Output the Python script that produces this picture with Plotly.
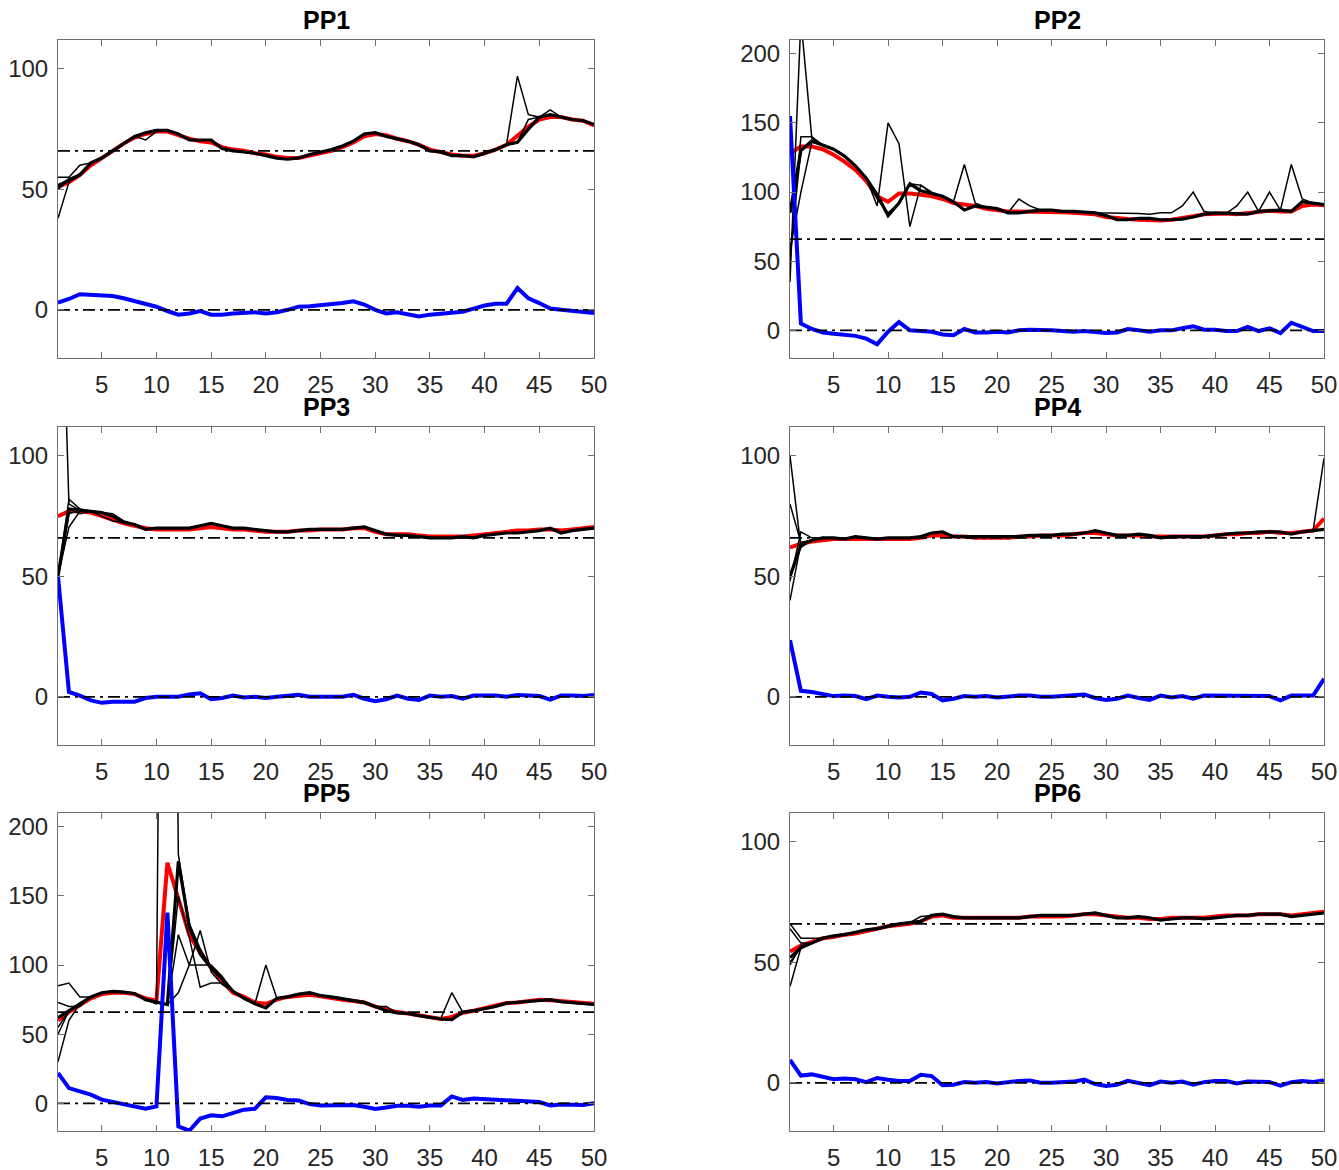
import plotly.graph_objects as go
from plotly.subplots import make_subplots

# ---------------- data ----------------
x_vals = list(range(1, 51))
x_ticks = [5, 10, 15, 20, 25, 30, 35, 40, 45, 50]
titles = ["PP1", "PP2", "PP3", "PP4", "PP5", "PP6"]
ref_level = 66
zero_level = 0

red1 = [51, 53, 56, 60, 63, 66, 69, 71.5, 73, 74, 74, 72.5, 71, 70, 69.5, 67.5, 66.5, 66, 65, 64.5,
        63.5, 63, 63, 64, 65, 66, 67.5, 69.5, 72, 73, 72.5, 71, 70, 68.5, 66.5, 65.5, 64.5, 64, 64, 65,
        66.5, 68.5, 72.5, 76, 79, 80, 80, 79, 78.5, 76.5]
black1 = [51, 54, 56, 61, 63, 66, 69, 72, 73.5, 74.5, 74.5, 73, 70.5, 70.5, 70.5, 67, 66, 65.5, 65, 64,
          63, 62.5, 63, 64.5, 65.5, 66.5, 68, 70, 73, 73.5, 72, 71, 70, 68.5, 66, 65.5, 64, 64, 63.5, 65,
          66.5, 68.5, 69.5, 75, 80, 81, 80, 79, 78.5, 77]
runs1 = [{1: 38, 2: 53}, {1: 55, 2: 55, 3: 60}, {1: 52, 9: 70.5, 10: 74},
         {43: 97, 44: 81, 46: 83}, {1: 50, 44: 79}]
blue1 = [3, 4.5, 6.5, 6.3, 6, 5.7, 4.8, 3.5, 2.6, 1.3, -0.5, -2, -1.5, -0.5, -2, -2, -1.5, -1.2, -1, -1.5,
         -1, 0, 1.3, 1.5, 1.8, 2.3, 2.8, 3.5, 2.2, 0, -1.5, -1, -1.8, -2.8, -2, -1.5, -1, -0.8, 0.5, 1.8,
         2.5, 2.5, 9, 4.8, 2.8, 0.5, 0, -0.5, -1, -1.3]

red2 = [128, 133, 133, 131, 127, 122, 116, 108, 97, 93, 99, 99, 98, 97, 95, 92, 91, 90, 88, 87,
        86, 86, 86, 86, 86, 85.5, 85, 84.5, 84, 82, 81, 80.5, 80, 79.5, 79.5, 80, 81, 82.5, 84, 84.5,
        84.5, 84, 85, 86, 86.5, 86, 86, 90, 91, 90.5]
black2 = [85, 130, 137, 134, 131, 126, 119, 110, 98, 83, 92, 106, 101, 99, 97, 93, 87, 90, 89, 88,
          85, 85, 86, 87, 87, 86, 86, 85.5, 85, 83, 80, 80, 81, 81, 80, 80, 80.5, 82, 84, 85,
          84.5, 84, 84, 86, 86.5, 87, 86, 93, 92, 91]
runs2 = [{1: 35, 2: 225, 3: 139}, {1: 50, 2: 140, 3: 140}, {1: 58, 2: 100, 3: 136},
         {9: 90, 10: 150, 11: 135, 12: 75, 13: 105, 17: 120, 18: 92, 22: 95, 23: 90, 30: 85, 31: 85,
          32: 85, 33: 84.5, 34: 84, 35: 85, 36: 85, 37: 90, 38: 100, 39: 86, 42: 90, 43: 100, 44: 86,
          45: 100, 46: 87, 47: 120, 48: 95},
         {1: 55, 2: 130, 9: 95, 10: 85, 13: 105, 14: 100}]
blue2 = [155, 5, 1, -1.5, -2.5, -3, -4, -6, -10, -1, 6, 0, -0.5, -1, -3, -3.5, 1, -1.5, -1.5, -1,
         -1.5, 0, 0.5, 0.5, 0, -0.5, -1, -0.5, -1, -2, -1.5, 1, 0, -1, 0, 0, 1.5, 3, 0.5, 0.5,
         -0.5, -0.5, 2.5, -0.5, 1.5, -2, 5.5, 2.5, -0.5, -0.5]

red3 = [75, 77, 77, 76.5, 75, 73.5, 72, 71, 70, 69.5, 69.5, 69.5, 69.5, 70, 70.5, 70, 69.5, 69.5, 69, 68.5,
        68.5, 68.5, 69, 69, 69.5, 69.5, 69.5, 70, 70, 68.5, 67.5, 67.5, 67.5, 67, 66.5, 66.5, 66.5, 66.5, 67, 67.5,
        68, 68.5, 69, 69, 69.5, 69.5, 69, 69.5, 70, 70.5]
black3 = [50, 78, 77.5, 77, 76.5, 75, 72.5, 71.5, 69.5, 70, 70, 70, 70, 71, 72, 71, 70, 70, 69.5, 69,
          68.5, 68.5, 69, 69.5, 69.5, 69.5, 69.5, 70, 70.5, 69, 67.5, 67, 67, 66.5, 66, 66, 66, 66.5, 66, 67,
          67.5, 68, 68, 68.5, 69, 70, 68, 69, 69.5, 70]
runs3 = [{1: 230, 2: 80}, {1: 50, 2: 82, 3: 78}, {1: 50, 2: 70.5, 3: 77},
         {1: 50, 3: 76, 5: 75, 6: 73}, {1: 50, 2: 76, 6: 76, 7: 73}]
blue3 = [50, 2, 0.5, -1.5, -2.5, -2, -2, -2, -0.5, 0, 0, 0, 1, 1.5, -1, -0.5, 0.5, -0.3, 0, -0.5,
         0, 0.3, 0.8, 0, 0, 0.3, 0, 0.8, -0.8, -1.8, -1, 0.5, -0.8, -1.3, 0.5, 0, 0.3, -0.8, 0.5, 0.5,
         0.5, 0, 0.8, 0.5, 0.3, -1.2, 0.5, 0.5, 0.3, 0.8]

red4 = [62, 63.5, 64.5, 65, 65.5, 65.5, 65.5, 65.5, 65.5, 65.5, 65.5, 65.5, 66, 67, 67, 66.5, 66.5, 66, 66, 66,
        66, 66.5, 66.5, 67, 67, 67, 67.5, 68, 68, 67.5, 67, 67, 67, 66.5, 66.5, 66.5, 66.5, 66.5, 66.5, 67,
        67.5, 67.5, 68, 68, 68.5, 68, 68, 68.5, 69, 74]
black4 = [50, 63, 65, 66, 66, 65.5, 66.5, 66, 65.5, 66, 66, 66, 66.5, 68, 68.5, 66.5, 66.5, 66.5, 66.5, 66.5,
          66.5, 66.5, 67, 67, 67, 67.5, 67.5, 68, 69, 68, 67, 67, 67.5, 67, 66, 66.5, 66.5, 66.5, 66.5, 67,
          67.5, 68, 68, 68.5, 68.5, 68.5, 67.5, 68.5, 69, 69.5]
runs4 = [{1: 100, 2: 62}, {1: 80, 2: 64}, {1: 48, 2: 68.5, 3: 66}, {1: 40, 2: 64}, {50: 99}]
blue4 = [23.5, 2.5, 2, 1, 0.3, 0.5, 0.3, -1, 0.5, 0, -0.3, 0, 1.8, 1.2, -1.5, -0.8, 0.3, 0, 0.3, -0.3,
         0.3, 0.5, 0.5, 0, 0, 0.3, 0.3, 1, -0.5, -1.3, -0.8, 0.5, -0.5, -1.3, 0.5, -0.3, 0.3, -0.8, 0.5, 0.5,
         0.5, 0.3, 0.3, 0.3, 0.3, -1.5, 0.5, 0.5, 0.5, 7.5]

red5 = [60, 66, 71, 76, 79, 80, 80, 79, 76, 74, 174, 147, 122, 109, 98, 88.5, 80, 77, 73, 72,
        75, 77, 78, 78.5, 77.5, 76, 75, 74, 73, 70, 68, 66, 65, 63.5, 62, 61, 62.5, 65.5, 67, 69,
        71, 72.5, 73, 74, 75, 74.5, 74, 73, 72.5, 72]
black5 = [62, 67, 72, 77, 80, 81, 80.5, 79.5, 75, 73, 71.5, 175, 128, 108, 98, 90, 81, 76, 72, 69,
          76, 77, 79, 80, 78, 77, 75.5, 74, 73, 70, 67, 65.5, 65, 63.5, 62, 61, 60.5, 66, 67, 68.5,
          70, 72.5, 73, 74, 74.5, 75, 73.5, 73, 72, 71.5]
runs5 = [{10: 72, 11: 1000, 12: 180, 13: 130, 14: 112},
         {1: 85, 2: 87, 3: 77, 12: 122, 13: 100, 14: 125, 15: 95, 16: 86},
         {1: 30, 2: 60, 12: 80, 13: 100, 14: 100, 15: 100, 16: 92},
         {1: 50, 12: 150, 13: 120, 14: 84, 15: 87, 16: 87, 20: 100},
         {1: 73, 2: 70, 3: 70, 36: 61.5, 37: 80},
         {1: 55, 31: 70}]
blue5 = [22, 11, 8.7, 6.3, 2.7, 1, -0.5, -2.2, -3.9, -2.2, 138, -16.7, -19.8, -11, -8.7, -9.4, -7, -4.6, -3.9, 4.4,
         3.9, 2.5, 2, -0.5, -1.5, -1.2, -1.5, -1.2, -2.5, -4, -3, -1.8, -1.8, -2.5, -1.5, -1.5, 5, 2.5, 3.5, 3,
         2.5, 2, 1.5, 1, 1, -1.5, -0.8, -1, -1.2, 0]

red6 = [54.5, 57, 58.5, 60, 60.5, 61.5, 62, 63, 64, 65, 65.5, 66, 67, 69, 69.5, 68.5, 68.5, 68.5, 68.5, 68.5,
        68.5, 68.5, 69, 69, 69, 69, 69.5, 70, 70, 69.5, 69, 68.5, 68.5, 68, 68, 68.5, 68.5, 68.5, 68.5, 69,
        69.5, 69.5, 69.5, 70, 70, 70, 69.5, 70, 70.5, 71]
black6 = [52, 56, 58, 60, 61, 61.5, 62.5, 63.5, 64, 65, 66, 66.5, 67, 69.5, 70, 69, 68.5, 68.5, 68.5, 68.5,
          68.5, 68.5, 69, 69.5, 69.5, 69.5, 69.5, 70, 70.5, 69.5, 68.5, 68.5, 69, 68.5, 67.5, 68, 68.5, 68.5, 68, 68.5,
          69, 69.5, 69.5, 70, 70, 70, 69, 69.5, 70, 70.5]
runs6 = [{1: 66, 2: 60, 3: 60}, {1: 40, 2: 56}, {1: 49, 2: 57}, {1: 50, 13: 69}, {1: 64, 2: 58}]
blue6 = [9.5, 3, 3.5, 2.5, 1.5, 1.8, 1.5, 0.3, 2, 1.3, 0.8, 0.8, 3.3, 2.8, -1, -0.8, 0.3, 0, 0.3, -0.3,
         0.3, 0.8, 1, 0, 0, 0.3, 0.5, 1.3, -0.5, -1.3, -0.8, 0.8, -0.3, -1, 0.5, 0, 0.5, -0.8, 0.3, 0.8,
         0.8, -0.3, 0.5, 0.5, 0.3, -1.2, 0.3, 0.8, 0.3, 1]

y_ranges = [[-20, 112], [-20, 210], [-20, 112], [-20, 112], [-20, 210], [-20, 112]]
y_ticks = [[0, 50, 100], [0, 50, 100, 150, 200], [0, 50, 100], [0, 50, 100],
           [0, 50, 100, 150, 200], [0, 50, 100]]

panels = [(red1, black1, runs1, blue1), (red2, black2, runs2, blue2), (red3, black3, runs3, blue3),
          (red4, black4, runs4, blue4), (red5, black5, runs5, blue5), (red6, black6, runs6, blue6)]

# ---------------- layout geometry (pixels) ----------------
W, H = 1339, 1170
col_px = [(58, 594), (790, 1324)]
row_px = [(40, 358), (427, 745), (813, 1131)]

fig = make_subplots(rows=3, cols=2)

axis_color = "#707070"
tick_font = dict(family="Liberation Sans, Arial, sans-serif", size=24, color="#262626")
dash_style = "12px,5px,3px,5px"

for i, (red, black, runs, blue) in enumerate(panels):
    r, c = i // 2 + 1, i % 2 + 1
    fig.add_trace(go.Scatter(x=x_vals, y=red, mode="lines",
                             line=dict(color="#ff0000", width=4)), row=r, col=c)
    fig.add_trace(go.Scatter(x=x_vals, y=black, mode="lines",
                             line=dict(color="#000000", width=3.2)), row=r, col=c)
    for ov in runs:
        run = list(black)
        for k, v in ov.items():
            run[k - 1] = v
        fig.add_trace(go.Scatter(x=x_vals, y=run, mode="lines",
                                 line=dict(color="#000000", width=1.5)), row=r, col=c)
    fig.add_trace(go.Scatter(x=x_vals, y=blue, mode="lines",
                             line=dict(color="#0000ff", width=4)), row=r, col=c)
    for lvl in (ref_level, zero_level):
        fig.add_trace(go.Scatter(x=[x_vals[0], x_vals[-1]], y=[lvl, lvl], mode="lines",
                                 line=dict(color="#000000", width=1.8, dash=dash_style)),
                      row=r, col=c)

    xl, xr = col_px[c - 1]
    yt, yb = row_px[r - 1]
    xa = "xaxis" if i == 0 else f"xaxis{i + 1}"
    ya = "yaxis" if i == 0 else f"yaxis{i + 1}"
    common = dict(showline=True, mirror="ticks", linecolor=axis_color, linewidth=1,
                  ticks="inside", ticklen=6, tickcolor=axis_color, tickwidth=1,
                  showgrid=False, zeroline=False, tickfont=tick_font, automargin=False)
    fig.layout[xa].update(domain=[xl / W, xr / W], range=[1, 50], tickvals=x_ticks,
                          ticklabelstandoff=5, **common)
    fig.layout[ya].update(domain=[1 - yb / H, 1 - yt / H], range=y_ranges[i],
                          tickvals=y_ticks[i], ticklabelstandoff=4, **common)
    fig.add_annotation(text=f"<b>{titles[i]}</b>", xref="paper", yref="paper",
                       x=(xl + xr) / 2 / W, y=1 - (yt - 20) / H, xanchor="center", yanchor="middle",
                       showarrow=False,
                       font=dict(family="Liberation Sans, Arial, sans-serif", size=25, color="#000000"))

fig.update_layout(width=W, height=H, margin=dict(l=0, r=0, t=0, b=0, autoexpand=False),
                  paper_bgcolor="white", plot_bgcolor="white", showlegend=False)

fig.write_html("out.html", config={"displayModeBar": False},
               post_script="document.body.style.margin='0';document.body.style.overflow='hidden';")
